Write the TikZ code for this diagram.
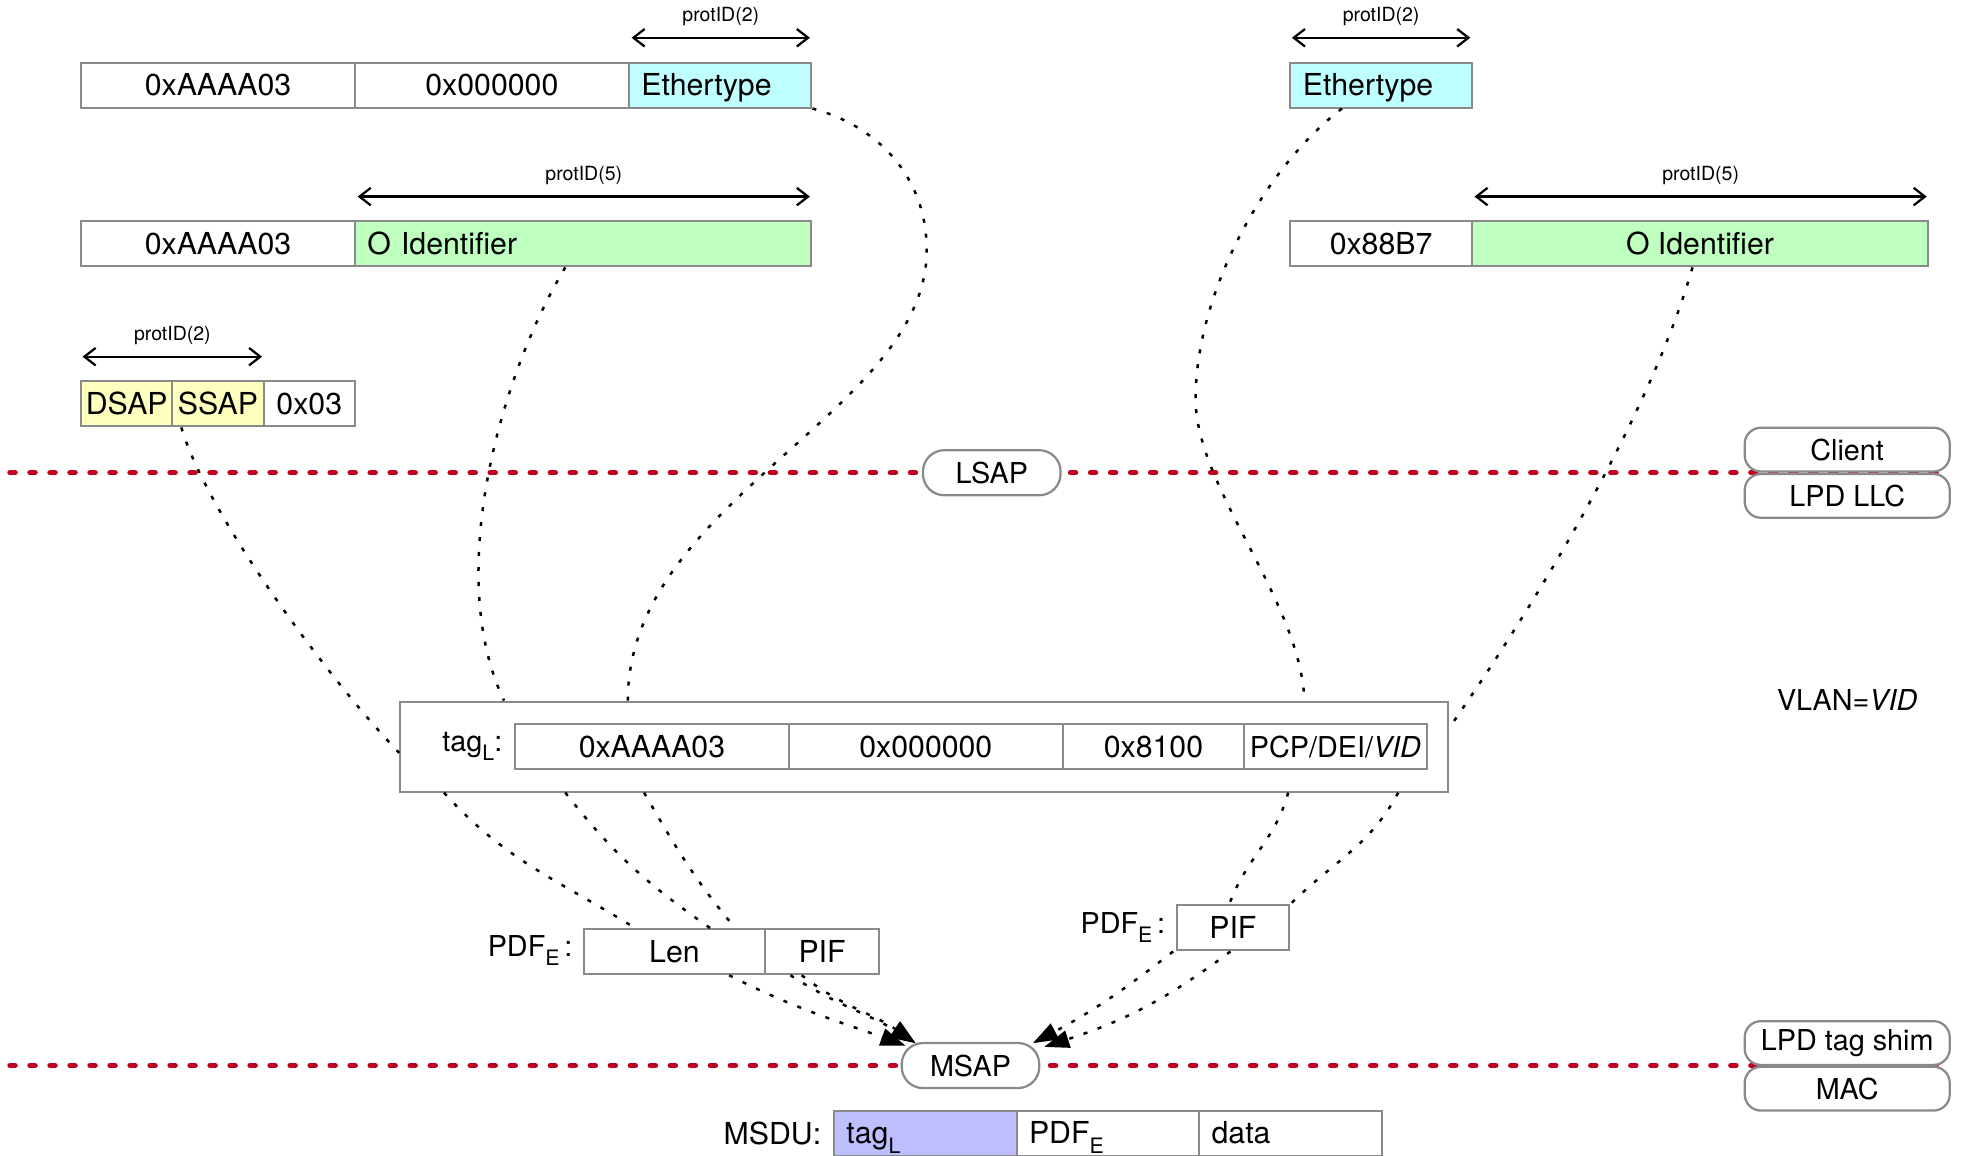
\documentclass[tikz,border=0pt]{standalone}
\usepackage{fontspec}
\setmainfont{TeX Gyre Heros}
\usetikzlibrary{arrows.meta}
\definecolor{boxgray}{RGB}{138,138,138}
\definecolor{ethcyan}{RGB}{191,255,255}
\definecolor{oidgreen}{RGB}{191,255,191}
\definecolor{sapyellow}{RGB}{255,255,191}
\definecolor{tagpurple}{RGB}{191,191,255}
\definecolor{sapred}{RGB}{192,0,32}
\newcommand\mainsize{\fontsize{11.5}{13.5}\selectfont}
\newcommand\cellsize{\fontsize{12.1}{14}\selectfont}
\newcommand\protsize{\fontsize{7.8}{9}\selectfont}
\newcommand\lowsub[1]{\raisebox{-0.6ex}{\fontsize{8.5}{9}\selectfont #1}}
\begin{document}
\begin{tikzpicture}[x=0.5pt, y=-0.5pt,
 cellbox/.style={draw=boxgray, fill=white, line width=0.8pt, minimum height=18pt, inner sep=0pt, anchor=west, font=\cellsize, text height=10.7pt, text depth=2pt},
 lcellbox/.style={cellbox, align=left, inner xsep=5pt},
 protarr/.style={{Straight Barb[length=4.5pt,width=7pt]}-{Straight Barb[length=4.5pt,width=7pt]}, line width=0.9pt},
 protlbl/.style={font=\protsize, inner sep=1pt, midway, yshift=8.5pt},
 dotline/.style={line width=1pt, dash pattern=on 1.6pt off 4.4pt},
 dotarr/.style={dotline, -{Triangle[length=10pt,width=7pt]}},
 redsep/.style={draw=sapred, line width=2.2pt, line cap=round, dash pattern=on 2pt off 6pt},
 sapnode/.style={draw=boxgray, fill=white, line width=0.9pt, rounded corners=8.5pt, minimum width=55pt, minimum height=18pt, inner sep=0pt, font=\mainsize},
 stacknode/.style={draw=boxgray, fill=white, line width=0.9pt, rounded corners=6.5pt, minimum width=82pt, minimum height=17.5pt, inner sep=0pt, font=\mainsize},
 txt/.style={font=\mainsize, inner sep=0pt}]
\useasboundingbox (0,0) rectangle (1568,924);

% separator lines
\coordinate (lsapL) at (8,378);
\coordinate (lsapR) at (1555,378);
\coordinate (msapL) at (8,852);
\coordinate (msapR) at (1555,852);
\draw[redsep] (lsapL) -- (lsapR);
\draw[redsep] (msapL) -- (msapR);

% row 1 left
\node[cellbox, minimum width=109.5pt] (r1a) at (64,68) {0xAAAA03};
\node[cellbox, minimum width=109.5pt] (r1b) at (283,68) {0x000000};
\node[lcellbox, fill=ethcyan, text width=63pt] (eth1) at (502,68) {Ethertype};
% row 2 left
\node[cellbox, minimum width=109.5pt] (r2a) at (64,195) {0xAAAA03};
\node[lcellbox, fill=oidgreen, text width=172.5pt] (oid1) at (283,195) {O Identifier};
% row 3 left
\node[cellbox, fill=sapyellow, minimum width=36.5pt] (dsap) at (64,323) {DSAP};
\node[cellbox, fill=sapyellow, minimum width=36.5pt] (ssap) at (137,323) {SSAP};
\node[cellbox, minimum width=36.5pt] (x03) at (210,323) {0x03};
% right rows
\node[lcellbox, fill=ethcyan, text width=62.5pt] (eth2) at (1031,68) {Ethertype};
\node[cellbox, minimum width=72.5pt] (r2r) at (1031,195) {0x88B7};
\node[cellbox, fill=oidgreen, minimum width=182.5pt] (oid2) at (1176,195) {O Identifier};

% protID arrows
\draw[protarr] ([xshift=1.5pt,yshift=9.5pt]eth1.north west) -- node[protlbl]{protID(2)} ([xshift=-1pt,yshift=9.5pt]eth1.north east);
\draw[protarr] ([xshift=1.5pt,yshift=9.5pt]oid1.north west) -- node[protlbl]{protID(5)} ([xshift=-1pt,yshift=9.5pt]oid1.north east);
\draw[protarr] ([xshift=1pt,yshift=9.5pt]dsap.north west) -- node[protlbl]{protID(2)} ([xshift=-1pt,yshift=9.5pt]ssap.north east);
\draw[protarr] ([xshift=1pt,yshift=9.5pt]eth2.north west) -- node[protlbl]{protID(2)} ([xshift=-1pt,yshift=9.5pt]eth2.north east);
\draw[protarr] ([xshift=1.5pt,yshift=9.5pt]oid2.north west) -- node[protlbl]{protID(5)} ([xshift=-1pt,yshift=9.5pt]oid2.north east);

% SAP nodes and layer stacks
\node[sapnode] (lsap) at (793,378) {LSAP};
\node[sapnode] (msap) at (776,852) {MSAP};
\node[stacknode] (client) at (1477,359.5) {Client};
\node[stacknode] (lpdllc) at (1477,396.5) {LPD LLC};
\node[stacknode] (shim) at (1477,834) {LPD tag shim};
\node[stacknode] (mac) at (1477,870.5) {MAC};
\node[txt] (vlan) at (1477,560) {VLAN=\textit{VID}};

% tag box
\node[draw=boxgray, line width=0.8pt, minimum width=419pt, minimum height=36pt, inner sep=0pt] (tag) at (739,597) {};
\node[txt, anchor=east] (taglbl) at (402,597) {tag\lowsub{L}:};
\node[cellbox, minimum width=109.5pt] (t1) at (411,597) {0xAAAA03};
\node[cellbox, minimum width=109.5pt] (t2) at (630,597) {0x000000};
\node[cellbox, minimum width=72.5pt] (t3) at (849,597) {0x8100};
\node[cellbox, minimum width=73pt, font=\mainsize] (t4) at (994,597) {PCP/DEI/\textit{VID}};

% PDF_E boxes
\node[txt, anchor=east] (pdfl) at (458,760) {PDF\lowsub{E}\,:};
\node[cellbox, minimum width=72.5pt] (len) at (466,761) {Len};
\node[cellbox, minimum width=45.5pt] (pif1) at (611,761) {PIF};
\node[txt, anchor=east] (pdfr) at (932,742) {PDF\lowsub{E}\,:};
\node[cellbox, minimum width=45pt] (pif2) at (940,742) {PIF};

% MSDU
\node[txt, anchor=east, font=\cellsize] (msdul) at (657,906) {MSDU:};
\node[lcellbox, fill=tagpurple, text width=63pt] (m1) at (666,906) {tag\lowsub{L}};
\node[lcellbox, text width=63pt] (m2) at (812,906) {PDF\lowsub{E}};
\node[lcellbox, text width=63pt] (m3) at (958,906) {data};

% dotted connectors, top
\draw[dotline] (eth1.south east) .. controls (700,100) and (741,140) .. (741,200) .. controls (741,330) and (502,400) .. ([xshift=-118.5pt]tag.north);
\draw[dotline] ([xshift=84.5pt]oid1.south west) .. controls (400,300) and (355,460) .. ([xshift=-168pt]tag.north);
\draw[dotline] ([xshift=4pt]ssap.south west) .. controls (165,410) and (260,540) .. ([yshift=-2.5pt]tag.west);
\draw[dotline] ([xshift=21pt]eth2.south west) .. controls (1010,135) and (956,235) .. (956,319) .. controls (956,390) and (1040,480) .. ([xshift=152pt]tag.north);
\draw[dotline] ([xshift=-3pt]oid2.south) .. controls (1320,330) and (1230,480) .. ([yshift=7.5pt]tag.east);

% dotted connectors, bottom
\draw[dotline] ([xshift=-192pt]tag.south) to[out=-48,in=148] ([xshift=21pt]len.north west);
\draw[dotline] ([xshift=-143.5pt]tag.south) to[out=-52,in=145] ([xshift=51pt]len.north west);
\draw[dotline] ([xshift=-112pt]tag.south) to[out=-60,in=130] ([xshift=61pt]len.north west);
\draw[dotarr] ([xshift=58.5pt]len.south west) to[out=-27,in=160] ([xshift=2pt,yshift=-1.5pt]msap.north west);
\draw[dotarr] ([xshift=10.5pt]pif1.south west) to[out=-33,in=148] ([xshift=6pt,yshift=-0.5pt]msap.north west);
\draw[dotarr] ([xshift=15pt]pif1.south west) to[out=-38,in=145] ([xshift=6pt,yshift=-0.5pt]msap.north west);
\draw[dotline] ([xshift=145.5pt]tag.south) to[out=-105,in=70] ([xshift=-1.5pt]pif2.north);
\draw[dotline] ([xshift=189.5pt]tag.south) to[out=-118,in=45] (pif2.north east);
\draw[dotarr] ([xshift=-1pt]pif2.south west) to[out=-142,in=28] ([xshift=-3pt,yshift=-0.5pt]msap.north east);
\draw[dotarr] ([xshift=-1pt]pif2.south) to[out=-143,in=18] ([xshift=1.5pt,yshift=-2pt]msap.north east);
\end{tikzpicture}
\end{document}
